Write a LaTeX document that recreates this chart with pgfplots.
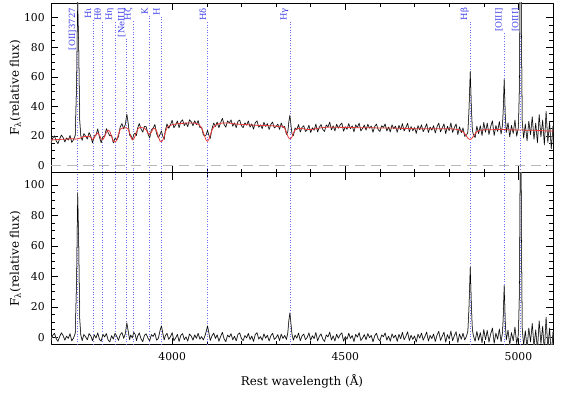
\documentclass[border=0pt]{standalone}
\usepackage{fontspec}
\setmainfont{DejaVu Serif}
\usepackage{pgfplots}
\usepackage{pgfplotstable}
\pgfplotsset{compat=1.18}
\definecolor{lblue}{RGB}{60,60,235}
\definecolor{ldot}{RGB}{110,110,255}
\definecolor{redm}{RGB}{235,55,55}

\pgfplotstableread{
l m o r
3650 17.2 15.4 -1.8
3655 17.3 18.5 1.2
3660 17.4 20.0 2.6
3665 17.5 16.6 -0.9
3670 17.5 14.8 -2.7
3675 17.6 18.0 0.4
3680 17.7 20.6 2.9
3685 17.8 18.9 1.1
3690 17.8 15.9 -1.9
3695 17.9 18.6 0.7
3700 18.0 17.2 -0.8
3705 18.0 20.3 2.3
3710 18.1 15.7 -2.4
3715 18.0 17.4 -0.6
3720 17.8 20.3 2.5
3724 17.9 55.9 38.0
3727 18.0 113.0 95.0
3730 18.2 80.2 62.0
3733 18.4 30.4 12.0
3736 18.7 20.2 1.5
3740 19.2 17.0 -2.2
3745 19.8 21.6 1.8
3750 19.5 19.8 0.3
3755 19.6 17.9 -1.7
3760 19.9 22.3 2.4
3765 18.8 19.7 0.9
3770 17.6 15.3 -2.3
3775 18.5 20.1 1.6
3780 21.0 20.5 -0.5
3785 22.0 24.8 2.8
3790 20.5 19.1 -1.4
3795 18.0 15.4 -2.6
3800 17.6 19.5 1.9
3805 19.5 19.7 0.2
3810 22.5 24.9 2.4
3815 24.0 22.2 -1.8
3820 23.0 20.0 -3.0
3825 19.5 20.5 1.0
3830 16.5 15.3 -1.2
3835 15.8 18.4 2.6
3840 17.0 17.5 0.5
3845 21.5 19.5 -2.0
3850 24.5 26.2 1.7
3855 25.2 28.3 3.1
3860 25.5 24.8 -0.7
3865 25.5 28.0 2.5
3869 25.3 34.8 9.5
3873 24.5 28.5 4.0
3877 22.0 20.4 -1.6
3880 19.5 20.9 1.4
3885 17.6 17.2 -0.4
3889 17.8 21.0 3.2
3893 20.0 21.9 1.9
3897 22.5 20.3 -2.2
3900 24.5 25.1 0.6
3905 25.6 28.4 2.8
3910 25.7 24.7 -1.0
3915 25.5 22.6 -2.9
3920 25.2 26.5 1.3
3925 24.0 26.2 2.2
3930 22.0 21.4 -0.6
3935 21.0 18.6 -2.4
3940 22.5 24.2 1.7
3945 24.8 25.3 0.5
3950 25.0 27.7 2.7
3955 23.5 21.6 -1.9
3960 19.5 18.7 -0.8
3965 16.5 21.0 4.5
3969 16.0 23.4 7.4
3973 17.2 19.7 2.5
3977 19.5 17.7 -1.8
3980 22.5 23.4 0.9
3985 25.5 28.1 2.6
3990 26.6 25.2 -1.4
3995 27.2 27.5 0.3
4000 27.6 30.6 3.0
4005 27.8 25.5 -2.3
4010 28.0 27.5 -0.5
4015 28.2 30.1 1.9
4020 28.4 25.6 -2.8
4025 28.5 29.7 1.2
4030 28.5 30.9 2.4
4035 28.6 27.0 -1.6
4040 28.7 28.9 0.2
4045 28.8 26.3 -2.5
4050 28.8 30.9 2.1
4055 28.8 29.6 0.8
4060 28.8 26.9 -1.9
4065 28.7 30.2 1.5
4070 28.4 27.7 -0.7
4075 27.8 30.4 2.6
4080 27.0 25.7 -1.3
4085 25.5 25.9 0.4
4090 22.5 20.7 -1.8
4095 19.0 20.1 1.1
4098 17.2 20.7 3.5
4102 16.4 23.8 7.4
4106 17.6 20.4 2.8
4110 20.5 18.4 -2.1
4115 24.0 24.9 0.9
4120 26.0 28.7 2.7
4125 27.2 26.4 -0.8
4130 27.8 29.4 1.6
4135 28.2 25.6 -2.6
4140 28.5 29.0 0.5
4145 28.7 31.9 3.2
4150 28.8 27.7 -1.1
4155 28.8 25.9 -2.9
4160 28.8 30.2 1.4
4165 28.7 28.8 0.1
4170 28.5 30.8 2.3
4175 28.3 26.6 -1.7
4180 28.2 28.8 0.6
4185 28.0 25.6 -2.4
4190 28.0 29.9 1.9
4195 27.9 30.7 2.8
4200 27.8 26.9 -0.9
4205 27.8 25.6 -2.2
4210 27.7 28.8 1.1
4215 27.7 27.3 -0.4
4220 27.6 30.1 2.5
4225 27.5 26.0 -1.5
4230 27.4 28.1 0.7
4235 27.3 24.6 -2.7
4240 27.2 29.0 1.8
4245 27.2 30.2 3.0
4250 27.1 25.9 -1.2
4255 27.1 27.5 0.4
4260 27.0 25.0 -2.0
4265 27.0 29.2 2.2
4270 27.0 26.4 -0.6
4275 27.0 28.3 1.3
4280 26.9 24.4 -2.5
4285 26.9 27.8 0.9
4290 26.8 29.4 2.6
4295 26.8 25.4 -1.4
4300 26.6 26.3 -0.3
4305 26.3 28.0 1.7
4310 26.6 24.4 -2.2
4315 26.7 28.7 2.0
4320 26.4 25.6 -0.8
4325 25.2 26.4 1.2
4330 22.5 21.0 -1.5
4334 19.8 22.8 3.0
4337 18.6 29.6 11.0
4340 18.0 34.0 16.0
4343 18.5 27.5 9.0
4346 19.4 21.4 2.0
4350 22.0 20.1 -1.9
4355 24.0 25.4 1.4
4360 24.8 24.2 -0.6
4365 25.0 27.7 2.7
4370 25.0 22.7 -2.3
4375 25.0 25.8 0.8
4380 24.8 26.9 2.1
4385 24.6 23.0 -1.6
4390 24.4 24.2 -0.2
4395 24.3 27.2 2.9
4400 24.3 22.3 -2.0
4405 24.5 25.5 1.0
4410 24.7 23.8 -0.9
4415 24.9 28.0 3.1
4420 25.1 22.7 -2.4
4425 25.3 25.9 0.6
4430 25.5 27.7 2.2
4435 25.6 24.4 -1.2
4440 25.8 23.0 -2.8
4445 25.9 27.4 1.5
4450 25.9 26.1 0.2
4455 26.0 29.3 3.3
4460 25.9 24.1 -1.8
4465 25.9 26.8 0.9
4470 25.9 23.4 -2.5
4475 25.9 27.9 2.0
4480 25.9 25.2 -0.7
4485 25.8 27.4 1.6
4490 25.8 28.7 2.9
4495 25.8 23.2 -2.6
4500 25.8 26.2 0.4
4505 25.8 24.5 -1.3
4510 25.7 28.3 2.6
4515 25.7 24.9 -0.8
4520 25.7 26.8 1.1
4525 25.7 22.8 -2.9
4530 25.6 27.5 1.9
4535 25.6 25.7 0.1
4540 25.6 28.6 3.0
4545 25.6 23.4 -2.2
4550 25.6 25.1 -0.5
4555 25.6 27.3 1.7
4560 25.5 23.9 -1.6
4565 25.5 27.9 2.4
4570 25.5 25.2 -0.3
4575 25.5 26.7 1.2
4580 25.5 22.5 -3.0
4585 25.5 26.4 0.9
4590 25.4 28.0 2.6
4595 25.4 24.3 -1.1
4600 25.4 23.0 -2.4
4605 25.4 26.9 1.5
4610 25.4 25.7 0.3
4615 25.3 28.1 2.8
4620 25.3 23.4 -1.9
4625 25.3 26.0 0.7
4630 25.3 22.7 -2.6
4635 25.3 27.5 2.2
4640 25.3 24.9 -0.4
4645 25.2 26.6 1.4
4650 25.2 22.5 -2.7
4655 25.2 27.1 1.9
4660 25.2 24.2 -1.0
4665 25.1 28.3 3.2
4670 25.1 23.4 -1.7
4675 25.1 25.7 0.6
4680 25.0 28.5 3.5
4685 25.0 22.8 -2.2
4690 25.0 26.3 1.3
4695 24.9 23.5 -1.4
4700 24.9 25.7 0.8
4705 24.9 21.8 -3.1
4710 24.9 26.9 2.0
4715 24.8 24.2 -0.6
4720 24.8 27.5 2.7
4725 24.8 22.9 -1.9
4730 24.8 25.3 0.5
4735 24.8 28.2 3.4
4740 24.8 22.3 -2.5
4745 24.8 26.0 1.2
4750 24.8 23.9 -0.9
4755 24.8 26.9 2.1
4760 24.8 22.0 -2.8
4765 24.8 26.2 1.4
4770 24.8 28.6 3.8
4775 24.8 22.8 -2.0
4780 24.8 25.4 0.6
4785 24.8 28.1 3.3
4790 24.8 21.6 -3.2
4795 24.8 26.5 1.7
4800 24.8 23.6 -1.2
4805 24.8 28.8 4.0
4810 24.7 22.4 -2.3
4815 24.6 25.6 1.0
4820 24.5 28.1 3.6
4825 24.3 20.9 -3.4
4830 24.0 26.1 2.1
4835 23.5 22.2 -1.3
4840 22.8 25.4 2.6
4845 21.5 19.7 -1.8
4850 19.8 20.5 0.7
4854 18.5 22.5 4.0
4857 17.9 35.9 18.0
4861 17.6 63.6 46.0
4864 18.0 40.0 22.0
4867 18.8 23.8 5.0
4870 19.8 20.8 1.0
4875 21.5 18.9 -2.6
4880 22.8 26.6 3.8
4885 23.5 21.5 -2.0
4890 23.9 26.9 3.0
4895 24.0 20.3 -3.7
4900 24.1 29.1 5.0
4905 24.1 22.5 -1.6
4910 24.2 28.6 4.4
4915 24.2 21.0 -3.2
4920 24.2 26.4 2.2
4925 24.2 30.2 6.0
4930 24.3 20.3 -4.0
4935 24.3 27.0 2.7
4940 24.3 23.0 -1.3
4945 24.3 29.7 5.4
4950 24.3 21.3 -3.0
4954 24.3 27.3 3.0
4956 24.3 36.3 12.0
4959 24.3 58.3 34.0
4962 24.3 34.3 10.0
4965 24.2 22.4 -1.8
4970 24.2 28.8 4.6
4975 24.2 19.4 -4.8
4980 24.1 27.1 3.0
4985 24.1 21.7 -2.4
4990 24.1 30.7 6.6
4995 24.0 19.8 -4.2
5000 24.0 25.8 1.8
5003 24.0 54.0 30.0
5005 24.0 134.0 110.0
5007 24.0 174.0 150.0
5009 24.0 84.0 60.0
5011 24.0 30.0 6.0
5015 24.0 18.6 -5.4
5020 23.9 28.1 4.2
5025 23.9 16.7 -7.2
5030 23.9 29.9 6.0
5035 23.9 20.9 -3.0
5040 23.9 32.9 9.0
5045 23.8 17.8 -6.0
5050 23.8 28.6 4.8
5055 23.7 15.3 -8.4
5060 23.6 34.4 10.8
5065 23.6 19.4 -4.2
5070 23.5 30.7 7.2
5075 23.5 13.9 -9.6
5080 23.4 36.6 13.2
5085 23.4 15.6 -7.8
5090 23.3 29.3 6.0
5095 23.3 11.3 -12.0
5100 23.2 26.8 3.6
}\spec

\pgfplotsset{
  specax/.style={
    scale only axis, width=442pt,
    xmin=3650, xmax=5100,
    xtick={4000,4500,5000}, minor x tick num=4,
    ytick={0,20,40,60,80,100}, minor y tick num=3,
    tick align=inside, major tick length=6pt, minor tick length=3.5pt,
    tick style={black, line width=0.5pt},
    axis line style={line width=0.7pt},
    /pgf/number format/assume math mode=true,
    /pgf/number format/1000 sep={},
    tick label style={font=\fontsize{9.5}{11}\selectfont},
    xticklabel style={yshift=-3.2pt},
    yticklabel style={xshift=-2pt},
    label style={font=\fontsize{10.5}{12}\selectfont},
    ylabel={F\textsubscript{λ}(relative flux)},
    ylabel style={at={(axis description cs:-0.071,0.5)}, anchor=center},
    line join=round,
  },
}
\tikzset{
  lnlab/.style={rotate=90, anchor=south east, inner sep=1pt, text=lblue, font=\fontsize{7.5}{9}\selectfont},
  lndot/.style={ldot, line width=0.6pt, dash pattern=on 0.7pt off 1.6pt},
}

\newcommand{\toplab}[3]{%
  \node[lnlab] (#3) at (axis cs:#1,107.5) {#2};
  \draw[lndot] ({axis cs:#1,0} |- #3.west) -- (axis cs:#1,-5);
}
\newcommand{\botline}[1]{%
  \draw[lndot] (axis cs:#1,-5) -- (axis cs:#1,108);
}

\begin{document}
\begin{tikzpicture}
\begin{axis}[specax, name=top, height=149.6pt, ymin=-5, ymax=110, xticklabels={}]
  \toplab{3727}{[OII]3727}{la}
  \toplab{3771}{Hι}{lb}
  \toplab{3798}{Hθ}{lc}
  \toplab{3835}{Hη}{ld}
  \toplab{3869}{[NeIII]}{le}
  \toplab{3889}{Hζ}{lf}
  \toplab{3934}{K}{lg}
  \toplab{3968}{H}{lh}
  \toplab{4102}{Hδ}{li}
  \toplab{4340}{Hγ}{lj}
  \toplab{4861}{Hβ}{lk}
  \toplab{4959}{[OIII]}{ll}
  \toplab{5007}{[OIII]}{lm}
  \draw[gray!55, line width=1pt, dash pattern=on 8.8pt off 5.3pt] (axis cs:3650,0) -- (axis cs:5100,0);
  \addplot[gray!45, line width=0.9pt] table[x=l, y=o] {\spec};
  \addplot[black, line width=0.45pt] table[x=l, y=o] {\spec};
  \addplot[redm, line width=0.7pt] table[x=l, y=m] {\spec};
\end{axis}
\begin{axis}[specax, name=bot, at={(top.south west)}, anchor=north west,
  height=151.4pt, ymin=-5, ymax=108,
  xlabel={Rest wavelength (Å)},
  xlabel style={at={(axis description cs:0.5,0)}, yshift=-31.7pt, anchor=center}]
  \botline{3727}\botline{3771}\botline{3798}\botline{3835}\botline{3869}
  \botline{3889}\botline{3934}\botline{3968}\botline{4102}\botline{4340}
  \botline{4861}\botline{4959}\botline{5007}
  \addplot[gray!45, line width=0.9pt] table[x=l, y=r] {\spec};
  \addplot[black, line width=0.45pt] table[x=l, y=r] {\spec};
\end{axis}
\path ([shift={(-44.9pt,-45.8pt)}]bot.south west) rectangle ([shift={(7.9pt,2.6pt)}]top.north east);
\end{tikzpicture}
\end{document}
